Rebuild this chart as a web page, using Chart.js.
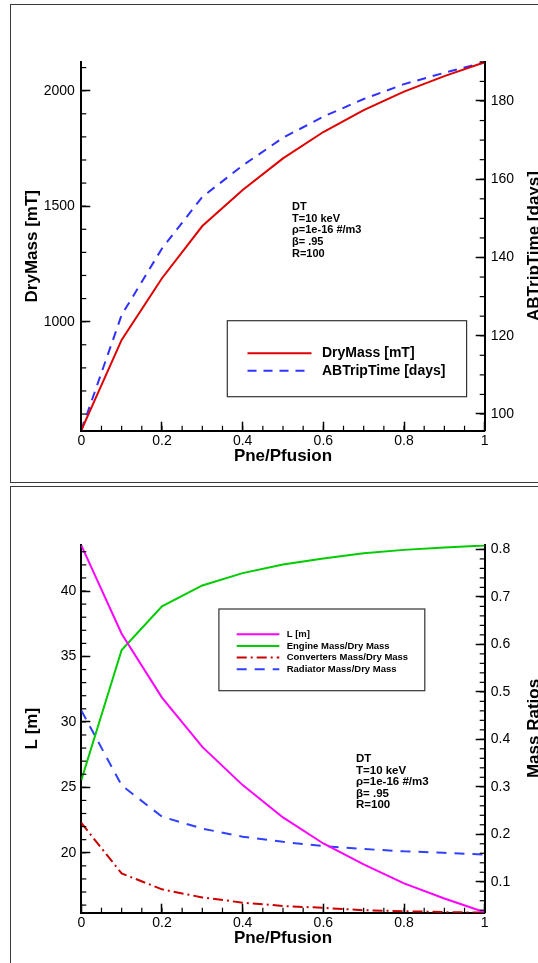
<!DOCTYPE html>
<html>
<head>
<meta charset="utf-8">
<script src="https://cdn.jsdelivr.net/npm/chart.js@4.4.1/dist/chart.umd.min.js"></script>
<style>
  html, body { margin: 0; padding: 0; background: #fff; overflow: hidden; }
  body { width: 538px; height: 963px; position: relative; }
  .frame { position: absolute; border: 1.5px solid #3a3a3a; }
  #f1 { left: 10px; top: 4px; width: 600px; height: 477px; }
  #f2 { left: 10px; top: 486px; width: 600px; height: 600px; }
  canvas { position: absolute; left: 0; }
  #c1 { top: 0; }
  #c2 { top: 483px; }
</style>
</head>
<body>
<div class="frame" id="f1"></div>
<div class="frame" id="f2"></div>
<canvas id="c1" width="538" height="483"></canvas>
<canvas id="c2" width="538" height="480"></canvas>
<script>
// data
const pneRatio = [0, 0.1, 0.2, 0.3, 0.4, 0.5, 0.6, 0.7, 0.8, 0.9, 1];

const dryMass = [530, 921, 1188, 1414, 1570, 1707, 1821, 1916, 1996, 2063, 2123];
const tripTime = [95.8, 125.3, 142.3, 155.5, 163.5, 170.6, 176.0, 180.5, 184.3, 187.2, 189.9];

const lengthL = [43.49, 36.74, 31.86, 28.09, 25.17, 22.70, 20.71, 19.11, 17.66, 16.51, 15.45];
const engineRatio = [0.314, 0.588, 0.680, 0.724, 0.750, 0.768, 0.781, 0.792, 0.799, 0.804, 0.808];
const converterRatio = [0.224, 0.1175, 0.084, 0.067, 0.056, 0.049, 0.045, 0.040, 0.038, 0.036, 0.035];
const radiatorRatio = [0.461, 0.303, 0.237, 0.212, 0.195, 0.184, 0.175, 0.169, 0.164, 0.161, 0.157];

const xTicks = [0, 0.2, 0.4, 0.6, 0.8, 1];
const dryMassTicks = [1000, 1500, 2000];
const tripTicks = [100, 120, 140, 160, 180];
const lengthTicks = [20, 25, 30, 35, 40];
const ratioTicks = [0.1, 0.2, 0.3, 0.4, 0.5, 0.6, 0.7, 0.8];

const caseNotes = ['DT', 'T=10 keV', 'ρ=1e-16 #/m3', 'β= .95', 'R=100'];

const FONT = '"Liberation Sans", Arial, sans-serif';

function pts(ys) {
  return pneRatio.map((x, i) => ({ x, y: ys[i] }));
}

// linear axis with tecplot-like inward ticks
function axis(position, min, max, ticks, size, pad, title) {
  const horiz = position === 'bottom';
  return {
    type: 'linear', position, min, max,
    afterBuildTicks: s => { s.ticks = ticks.map(v => ({ value: v })); },
    afterFit: s => { if (horiz) s.height = size; else s.width = size; },
    ticks: {
      font: { family: FONT, size: 14 }, color: '#000',
      padding: pad, autoSkip: false, maxRotation: 0,
      callback: v => String(v)
    },
    grid: { drawOnChartArea: false, drawTicks: true, tickLength: -9, tickWidth: 1.5, tickColor: '#000' },
    border: { display: true, color: '#000', width: 2 },
    title: title || { display: false }
  };
}

function axisTitle(text, padding) {
  return { display: true, text, color: '#000', font: { family: FONT, size: 17, weight: 'bold' }, padding };
}

// minor ticks, boxed legend, notes and the right-hand titles
const decor = {
  id: 'decor',
  afterDraw(chart, args, o) {
    const ctx = chart.ctx;
    ctx.save();

    ctx.strokeStyle = '#000';
    ctx.lineWidth = 1.2;
    for (const [id, step] of Object.entries(o.minor)) {
      const s = chart.scales[id];
      const n0 = Math.ceil(s.min / step - 1e-6), n1 = Math.floor(s.max / step + 1e-6);
      for (let n = n0; n <= n1; n++) {
        const p = s.getPixelForValue(n * step);
        ctx.beginPath();
        if (s.position === 'left') { ctx.moveTo(s.right, p); ctx.lineTo(s.right + 5, p); }
        else if (s.position === 'right') { ctx.moveTo(s.left, p); ctx.lineTo(s.left - 5, p); }
        else { ctx.moveTo(p, s.top); ctx.lineTo(p, s.top - 5); }
        ctx.stroke();
      }
    }

    // legend
    const b = o.legend.box;
    ctx.fillStyle = '#fff';
    ctx.fillRect(b[0], b[1], b[2], b[3]);
    ctx.strokeStyle = '#333';
    ctx.lineWidth = 1.2;
    ctx.strokeRect(b[0], b[1], b[2], b[3]);
    ctx.font = 'bold ' + o.legend.size + 'px ' + FONT;
    ctx.textBaseline = 'middle';
    ctx.textAlign = 'left';
    chart.data.datasets.forEach((ds, i) => {
      const y = o.legend.y0 + i * o.legend.gap;
      ctx.strokeStyle = ds.borderColor;
      ctx.lineWidth = ds.borderWidth;
      ctx.setLineDash(ds.borderDash || []);
      ctx.beginPath();
      ctx.moveTo(o.legend.x0, y);
      ctx.lineTo(o.legend.x1, y);
      ctx.stroke();
      ctx.setLineDash([]);
      ctx.fillStyle = '#000';
      ctx.fillText(ds.label, o.legend.tx, y);
    });

    // case notes
    ctx.font = 'bold ' + o.notes.size + 'px ' + FONT;
    caseNotes.forEach((t, i) => ctx.fillText(t, o.notes.x, o.notes.y0 + i * o.notes.gap));

    // right axis title, reading bottom to top
    ctx.translate(o.rightTitle.x, o.rightTitle.y);
    ctx.rotate(-Math.PI / 2);
    ctx.textAlign = 'center';
    ctx.textBaseline = 'alphabetic';
    ctx.font = 'bold 17px ' + FONT;
    ctx.fillText(o.rightTitle.text, 0, 0);
    ctx.restore();
  }
};

Chart.register(decor);

new Chart(document.getElementById('c1'), {
  type: 'line',
  data: {
    datasets: [
      { label: 'DryMass [mT]', data: pts(dryMass), yAxisID: 'y', borderColor: '#e00000', borderWidth: 2, pointRadius: 0, tension: 0 },
      { label: 'ABTripTime [days]', data: pts(tripTime), yAxisID: 'y1', borderColor: '#3030ff', borderWidth: 2, borderDash: [9, 7], pointRadius: 0, tension: 0 }
    ]
  },
  options: {
    responsive: false, animation: false, devicePixelRatio: 1,
    layout: { padding: { top: 61.7, left: 0, right: 0, bottom: 0 } },
    scales: {
      x: axis('bottom', 0, 1, xTicks, 52.3, 11, axisTitle('Pne/Pfusion', { top: 0, bottom: 16.8 })),
      y: axis('left', 528, 2125.5, dryMassTicks, 81.3, 15.5, axisTitle('DryMass [mT]', { top: 22.4, bottom: 0 })),
      y1: axis('right', 95.73, 190.04, tripTicks, 53.3, 15)
    },
    plugins: {
      legend: { display: false },
      tooltip: { enabled: false },
      decor: {
        minor: { x: 0.05, y: 100, y1: 5 },
        legend: { box: [227.3, 320.7, 239.3, 76], y0: 353.3, gap: 17.4, x0: 247.5, x1: 311.5, tx: 322, size: 14 },
        notes: { x: 292, y0: 206.7, gap: 11.8, size: 11 },
        rightTitle: { text: 'ABTripTime [days]', x: 539, y: 246 }
      }
    }
  }
});

new Chart(document.getElementById('c2'), {
  type: 'line',
  data: {
    datasets: [
      { label: 'L [m]', data: pts(lengthL), yAxisID: 'y', borderColor: '#ff00ff', borderWidth: 2, pointRadius: 0, tension: 0 },
      { label: 'Engine Mass/Dry Mass', data: pts(engineRatio), yAxisID: 'y1', borderColor: '#00cc00', borderWidth: 2, pointRadius: 0, tension: 0 },
      { label: 'Converters Mass/Dry Mass', data: pts(converterRatio), yAxisID: 'y1', borderColor: '#cc0000', borderWidth: 2, borderDash: [10, 4, 2, 4], pointRadius: 0, tension: 0 },
      { label: 'Radiator Mass/Dry Mass', data: pts(radiatorRatio), yAxisID: 'y1', borderColor: '#3040ff', borderWidth: 2, borderDash: [10, 8], pointRadius: 0, tension: 0 }
    ]
  },
  options: {
    responsive: false, animation: false, devicePixelRatio: 1,
    layout: { padding: { top: 61.7, left: 0, right: 0, bottom: 0 } },
    scales: {
      x: axis('bottom', 0, 1, xTicks, 50.3, 11, axisTitle('Pne/Pfusion', { top: 0, bottom: 14.8 })),
      y: axis('left', 15.42, 43.54, lengthTicks, 81.3, 14, axisTitle('L [m]', { top: 22.4, bottom: 0 })),
      y1: axis('right', 0.0348, 0.8099, ratioTicks, 53.3, 15)
    },
    plugins: {
      legend: { display: false },
      tooltip: { enabled: false },
      decor: {
        minor: { x: 0.05, y: 1, y1: 0.02 },
        legend: { box: [218.9, 126, 205.9, 81.7], y0: 151.3, gap: 11.65, x0: 236.7, x1: 279.3, tx: 286.7, size: 9.5 },
        notes: { x: 356, y0: 276.3, gap: 11.4, size: 11.5 },
        rightTitle: { text: 'Mass Ratios', x: 539, y: 245.5 }
      }
    }
  }
});
</script>
</body>
</html>
